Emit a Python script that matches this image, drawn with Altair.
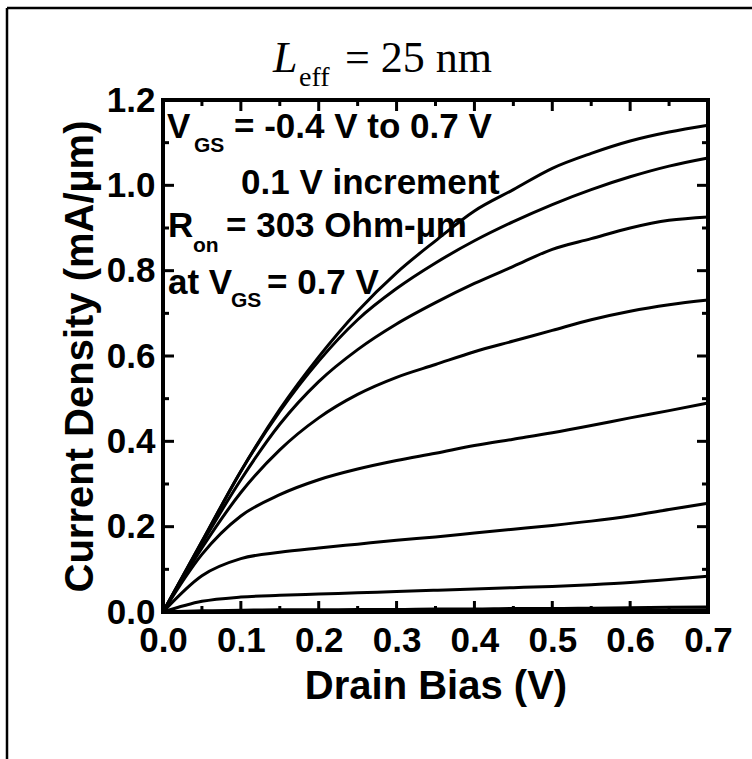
import altair as alt
import pandas as pd

# ---------------- data ----------------
vds = [0.0, 0.05, 0.10, 0.15, 0.20, 0.25, 0.30, 0.35, 0.40, 0.45, 0.50, 0.55, 0.60, 0.65, 0.70]
vgs = [0.7, 0.6, 0.5, 0.4, 0.3, 0.2, 0.1, 0.0, -0.1, -0.2, -0.3, -0.4]
id_07 = [0, 0.165, 0.33, 0.475, 0.598, 0.705, 0.795, 0.87, 0.94, 0.99, 1.04, 1.075, 1.104, 1.125, 1.141]
id_06 = [0, 0.165, 0.33, 0.47, 0.588, 0.685, 0.758, 0.818, 0.87, 0.915, 0.955, 0.99, 1.02, 1.045, 1.064]
id_05 = [0, 0.16, 0.31, 0.44, 0.54, 0.615, 0.675, 0.725, 0.77, 0.81, 0.85, 0.875, 0.90, 0.918, 0.926]
id_04 = [0, 0.15, 0.28, 0.38, 0.455, 0.51, 0.55, 0.58, 0.61, 0.635, 0.66, 0.685, 0.705, 0.72, 0.731]
id_03 = [0, 0.135, 0.225, 0.275, 0.31, 0.335, 0.355, 0.372, 0.39, 0.405, 0.42, 0.437, 0.455, 0.472, 0.49]
id_02 = [0, 0.085, 0.125, 0.14, 0.15, 0.159, 0.168, 0.176, 0.185, 0.194, 0.203, 0.213, 0.225, 0.24, 0.255]
id_01 = [0, 0.025, 0.035, 0.039, 0.042, 0.045, 0.048, 0.051, 0.054, 0.057, 0.060, 0.064, 0.069, 0.076, 0.084]
id_00 = [0, 0.003, 0.004, 0.005, 0.005, 0.006, 0.006, 0.007, 0.007, 0.008, 0.008, 0.009, 0.010, 0.011, 0.012]
id_m01 = [0, 0.001, 0.0015, 0.002, 0.002, 0.0025, 0.0025, 0.003, 0.003, 0.0035, 0.0035, 0.004, 0.004, 0.0045, 0.005]
id_m02 = [0, 0.0005, 0.0007, 0.0008, 0.0009, 0.001, 0.001, 0.0012, 0.0012, 0.0013, 0.0014, 0.0015, 0.0016, 0.0018, 0.002]
id_m03 = [0, 0.0002, 0.0003, 0.0004, 0.0004, 0.0005, 0.0005, 0.0006, 0.0006, 0.0007, 0.0007, 0.0008, 0.0008, 0.0009, 0.001]
id_m04 = [0, 0.0001, 0.0001, 0.0002, 0.0002, 0.0002, 0.0003, 0.0003, 0.0003, 0.0003, 0.0004, 0.0004, 0.0004, 0.0005, 0.0005]
curves = [id_07, id_06, id_05, id_04, id_03, id_02, id_01, id_00, id_m01, id_m02, id_m03, id_m04]

x_major = [0.1, 0.2, 0.3, 0.4, 0.5, 0.6]
x_minor = [0.05, 0.15, 0.25, 0.35, 0.45, 0.55, 0.65]
y_major = [0.2, 0.4, 0.6, 0.8, 1.0]
y_minor = [0.1, 0.3, 0.5, 0.7, 0.9, 1.1]
x_labels = [0.0, 0.1, 0.2, 0.3, 0.4, 0.5, 0.6, 0.7]
y_labels = [0.0, 0.2, 0.4, 0.6, 0.8, 1.0, 1.2]

rows = []
for v, ys_ in zip(vgs, curves):
    for x, y in zip(vds, ys_):
        rows.append({"vgs": v, "vds": x, "id": y})
df = pd.DataFrame(rows)

W, H = 545, 512
SANS = "Liberation Sans"
SERIF = "Liberation Serif"

xs = alt.Scale(domain=[0, 0.7], nice=False, zero=False)
ys = alt.Scale(domain=[0, 1.2], nice=False, zero=False)

x_axis = alt.Axis(
    values=x_labels, format=".1f", title="Drain Bias (V)", grid=False, domain=False,
    ticks=False, labelFont=SANS, labelFontSize=35, labelFontWeight="bold", labelColor="black",
    labelPadding=11, labelFlush=False, titleFont=SANS, titleFontSize=40, titleFontWeight="bold",
    titleColor="black", titlePadding=8)
y_axis = alt.Axis(
    values=y_labels, format=".1f", title="Current Density (mA/µm)", grid=False, domain=False,
    ticks=False, labelFont=SANS, labelFontSize=35, labelFontWeight="bold", labelColor="black",
    labelPadding=8, labelFlush=False, titleFont=SANS, titleFontSize=40, titleFontWeight="bold",
    titleColor="black", titlePadding=6)

lines = alt.Chart(df).mark_line(color="black", strokeWidth=3, interpolate="monotone").encode(
    x=alt.X("vds:Q", scale=xs, axis=x_axis, title="Drain Bias (V)"),
    y=alt.Y("id:Q", scale=ys, axis=y_axis, title="Current Density (mA/µm)"),
    detail="vgs:N",
)


def tick_layer(vals, orient, length):
    d = pd.DataFrame({"vds": vals, "id": vals})
    base = alt.Chart(d).mark_rule(color="black", strokeWidth=3)
    if orient == "bottom":
        return base.encode(x=alt.X("vds:Q", scale=xs, axis=x_axis, title="Drain Bias (V)"),
                           y=alt.value(H), y2=alt.value(H - length))
    if orient == "top":
        return base.encode(x=alt.X("vds:Q", scale=xs, axis=x_axis, title="Drain Bias (V)"),
                           y=alt.value(0), y2=alt.value(length))
    if orient == "left":
        return base.encode(y=alt.Y("id:Q", scale=ys, axis=y_axis, title="Current Density (mA/µm)"),
                           x=alt.value(0), x2=alt.value(length))
    return base.encode(y=alt.Y("id:Q", scale=ys, axis=y_axis, title="Current Density (mA/µm)"),
                       x=alt.value(W), x2=alt.value(W - length))


ticks = []
for o in ["bottom", "top"]:
    ticks.append(tick_layer(x_major, o, 11))
    ticks.append(tick_layer(x_minor, o, 6))
for o in ["left", "right"]:
    ticks.append(tick_layer(y_major, o, 11))
    ticks.append(tick_layer(y_minor, o, 6))

one = pd.DataFrame({"k": [0]})


def txt(s, x, y, size, font=SANS, weight="bold", style="normal"):
    return alt.Chart(one).mark_text(
        align="left", baseline="alphabetic", font=font, fontSize=size, fontWeight=weight,
        fontStyle=style, color="black"
    ).encode(x=alt.value(x - 163), y=alt.value(y - 100), text=alt.value(s))


texts = [
    # title
    txt("L", 273, 72, 44, font=SERIF, weight="normal", style="italic"),
    txt("eff", 299, 86, 28, font=SERIF, weight="normal"),
    txt("= 25 nm", 345, 72, 44, font=SERIF, weight="normal"),
    # annotations
    txt("V", 167, 138, 35),
    txt("GS", 194, 152, 21),
    txt("= -0.4 V to 0.7 V", 234, 138, 35),
    txt("0.1 V increment", 241, 194, 35),
    txt("R", 168, 237, 35),
    txt("on", 193, 252, 21),
    txt("= 303 Ohm-µm", 226, 237, 35),
    txt("at V", 168, 294, 35),
    txt("GS", 231, 307, 21),
    txt("= 0.7 V", 267, 294, 35),
]

# outer figure frame (only its top and left edges fall inside the picture)
frame_top = alt.Chart(one).mark_rule(color="black", strokeWidth=2.5, strokeCap="butt").encode(
    x=alt.value(7 - 163), x2=alt.value(752 - 163), y=alt.value(8 - 100))
frame_left = alt.Chart(one).mark_rule(color="black", strokeWidth=2.5, strokeCap="butt").encode(
    x=alt.value(7 - 163), y=alt.value(8 - 100), y2=alt.value(759 - 100))

chart = alt.layer(lines, *ticks, *texts, frame_top, frame_left).properties(
    width=W, height=H,
    padding={"left": 163, "top": 100, "right": 44, "bottom": 147},
    autosize=alt.AutoSizeParams(type="none"),
).configure(background="white").configure_view(stroke="black", strokeWidth=4)

chart.save("out.html", embed_options={"renderer": "svg", "actions": False})
